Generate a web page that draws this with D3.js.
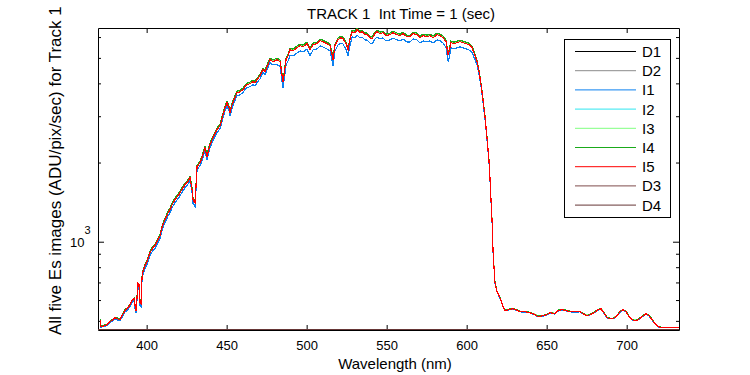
<!DOCTYPE html>
<html>
<head>
<meta charset="utf-8">
<script src="https://cdn.jsdelivr.net/npm/d3@7"></script>
<style>
  body { margin: 0; background: #fff; }
  svg { font-family: "Liberation Sans", Arial, sans-serif; }
</style>
</head>
<body>
<div id="chart"></div>
<script>
// Wavelength grid (nm) shared by the five image spectra
const wavelength = [
  370.9, 371.5, 373.4, 375.2, 377.1, 379.0, 380.2, 381.5, 383.4, 384.6,
  386.5, 388.4, 389.6, 390.9, 392.1, 392.7, 393.4, 394.6, 395.2, 395.9,
  396.5, 397.1, 397.7, 399.0, 400.2, 402.1, 404.0, 405.2, 406.5, 408.4,
  409.6, 410.9, 412.1, 413.4, 414.6, 415.9, 417.7, 419.6, 420.9, 422.7,
  424.0, 425.2, 426.5, 427.1, 428.4, 429.0, 430.2, 430.9, 431.5, 433.4,
  434.6, 436.5, 437.7, 438.4, 439.6, 441.5, 444.0, 445.9, 447.7, 449.0,
  450.2, 451.5, 452.1, 453.4, 454.6, 456.5, 458.4, 460.2, 461.5, 462.7,
  464.6, 466.5, 467.7, 469.0, 470.9, 472.7, 474.0, 475.2, 477.1, 479.0,
  481.5, 483.4, 485.2, 485.9, 487.1, 488.4, 489.6, 491.5, 494.0, 495.9,
  497.7, 500.2, 502.1, 504.0, 506.5, 508.4, 510.2, 512.7, 514.6, 515.9,
  516.5, 517.7, 519.6, 521.5, 522.7, 524.6, 525.9, 527.1, 528.4, 530.2,
  531.5, 533.4, 534.6, 536.5, 537.7, 539.6, 540.9, 542.7, 544.0, 545.9,
  547.7, 549.6, 552.1, 554.0, 556.5, 558.4, 560.2, 562.7, 564.6, 566.5,
  569.0, 570.9, 572.7, 575.2, 577.1, 579.0, 581.5, 583.4, 585.2, 587.1,
  588.4, 589.0, 590.2, 592.1, 594.0, 595.9, 597.7, 599.6, 601.5, 603.4,
  605.2, 606.5, 607.7, 609.0, 610.2, 611.5, 612.7, 614.0, 614.6, 615.2,
  615.9, 616.5, 617.1, 617.7, 619.0, 620.2, 621.5, 622.7, 624.0, 625.9,
  628.4, 630.9, 633.4, 636.5, 639.6, 642.7, 644.6, 647.7, 650.2, 652.1,
  655.2, 657.1, 659.6, 662.1, 664.6, 667.7, 670.9, 672.7, 675.2, 677.1,
  679.6, 682.1, 684.0, 685.2, 686.5, 687.7, 689.6, 691.5, 694.0, 695.9,
  697.7, 699.6, 701.5, 703.4, 705.2, 707.1, 709.6, 712.1, 714.0, 715.9,
  717.7, 719.6, 722.1, 727.1, 732.7
];

const I1 = [
  500, 473, 477, 480, 492, 500, 508, 505, 500, 516,
  540, 553, 567, 588, 598, 560, 535, 680, 672, 570,
  565, 715, 752, 792, 820, 887, 927, 943, 976, 1028,
  1102, 1161, 1203, 1256, 1289, 1347, 1407, 1458, 1497, 1563,
  1605, 1633, 1677, 1706, 1530, 1395, 1360, 1600, 1878, 1946,
  2032, 2219, 2040, 2142, 2278, 2421, 2598, 2690, 2961, 3148,
  3290, 3140, 3000, 3233, 3377, 3590, 3622, 3686, 3785, 3851,
  3885, 3953, 3919, 4022, 4165, 4390, 4313, 4507, 4790, 4700,
  4720, 4630, 3850, 4120, 4700, 4866, 5128, 5085, 5221, 5314,
  5267, 5407, 5100, 5359, 5407, 5550, 5503, 5407, 5314, 4880,
  4650, 5314, 5599, 5698, 5649, 5380, 5080, 5599, 6005, 5952,
  6112, 5952, 6005, 5850, 5850, 5698, 5649, 5901, 6005, 5901,
  5952, 5799, 5850, 5952, 5850, 5799, 5901, 5748, 5748, 5901,
  5850, 5698, 5799, 5748, 5799, 5698, 5850, 5799, 5698, 5480,
  4850, 5000, 5455, 5407, 5455, 5503, 5455, 5407, 5359, 5250,
  4920, 4690, 4320, 3870, 3400, 2910, 2450, 1990, 1705, 1432,
  1183, 912, 793, 696, 645, 621, 596, 565, 546, 549,
  555, 549, 541, 540, 536, 527, 518, 521, 527, 535,
  531, 545, 550, 546, 541, 540, 541, 531, 522, 527,
  536, 549, 555, 541, 527, 513, 509, 509, 522, 540,
  550, 541, 518, 504, 500, 504, 518, 531, 522, 504,
  487, 474, 471, 471, 471
];

const I2 = [
  506, 476, 480, 484, 497, 506, 515, 511, 506, 524,
  548, 562, 577, 598, 608, 577, 548, 693, 687, 587,
  582, 731, 771, 812, 841, 910, 951, 968, 1002, 1056,
  1132, 1193, 1236, 1292, 1326, 1385, 1447, 1499, 1539, 1607,
  1650, 1679, 1724, 1754, 1580, 1447, 1410, 1650, 1932, 2001,
  2090, 2283, 2109, 2203, 2343, 2490, 2672, 2768, 3046, 3238,
  3385, 3238, 3100, 3326, 3474, 3693, 3726, 3792, 3894, 3962,
  3997, 4067, 4032, 4138, 4286, 4517, 4438, 4637, 4930, 4853,
  4930, 4845, 4067, 4318, 4930, 5105, 5381, 5336, 5478, 5575,
  5526, 5673, 5381, 5623, 5673, 5824, 5774, 5673, 5575, 5150,
  4930, 5575, 5875, 5979, 5927, 5673, 5381, 5875, 6301, 6245,
  6413, 6245, 6301, 6138, 6138, 5979, 5927, 6191, 6301, 6191,
  6245, 6084, 6138, 6245, 6138, 6084, 6191, 6031, 6031, 6191,
  6138, 5979, 6084, 6031, 6084, 5979, 6138, 6084, 5979, 5774,
  5150, 5287, 5723, 5673, 5723, 5774, 5723, 5673, 5623, 5478,
  5105, 4845, 4438, 3962, 3474, 2967, 2490, 2019, 1724, 1447,
  1193, 918, 797, 699, 646, 624, 598, 567, 548, 552,
  557, 552, 543, 542, 538, 529, 520, 524, 529, 538,
  533, 548, 552, 548, 543, 543, 543, 533, 524, 529,
  538, 552, 557, 543, 529, 515, 511, 511, 524, 543,
  552, 543, 520, 506, 502, 506, 520, 533, 524, 506,
  489, 476, 472, 471, 471
];

const I3 = [
  506, 476, 480, 484, 497, 506, 515, 511, 506, 524,
  548, 563, 578, 599, 609, 578, 549, 694, 689, 588,
  583, 734, 774, 815, 844, 913, 955, 972, 1006, 1060,
  1137, 1198, 1241, 1297, 1331, 1390, 1453, 1505, 1545, 1614,
  1657, 1686, 1731, 1762, 1586, 1453, 1415, 1657, 1940, 2009,
  2099, 2292, 2118, 2212, 2352, 2500, 2683, 2779, 3058, 3251,
  3398, 3251, 3113, 3339, 3488, 3708, 3741, 3807, 3909, 3978,
  4013, 4083, 4048, 4155, 4303, 4535, 4456, 4656, 4950, 4872,
  4950, 4864, 4083, 4335, 4950, 5126, 5402, 5357, 5500, 5597,
  5548, 5696, 5402, 5646, 5696, 5847, 5797, 5696, 5597, 5171,
  4950, 5597, 5898, 6003, 5950, 5696, 5402, 5898, 6326, 6270,
  6438, 6270, 6326, 6163, 6163, 6003, 5950, 6216, 6326, 6216,
  6270, 6108, 6163, 6270, 6163, 6108, 6216, 6055, 6055, 6216,
  6163, 6003, 6108, 6055, 6108, 6003, 6163, 6108, 6003, 5797,
  5171, 5308, 5746, 5696, 5746, 5797, 5746, 5696, 5646, 5500,
  5126, 4864, 4456, 3978, 3488, 2979, 2500, 2027, 1731, 1453,
  1198, 921, 801, 702, 648, 625, 599, 568, 549, 553,
  558, 553, 544, 544, 539, 530, 521, 525, 530, 539,
  534, 549, 553, 549, 544, 544, 544, 534, 525, 530,
  539, 553, 558, 544, 530, 516, 512, 512, 525, 544,
  553, 544, 521, 507, 503, 507, 521, 534, 525, 507,
  490, 477, 472, 472, 472
];

const I4 = [
  507, 477, 481, 486, 499, 508, 517, 513, 508, 526,
  551, 565, 580, 601, 611, 580, 552, 697, 691, 591,
  586, 736, 776, 821, 851, 921, 962, 980, 1014, 1069,
  1146, 1208, 1251, 1307, 1342, 1401, 1464, 1517, 1558, 1626,
  1670, 1699, 1745, 1776, 1599, 1464, 1427, 1670, 1955, 2025,
  2115, 2310, 2135, 2230, 2371, 2520, 2704, 2801, 3083, 3277,
  3425, 3277, 3137, 3365, 3516, 3738, 3771, 3837, 3940, 4009,
  4045, 4116, 4080, 4188, 4337, 4571, 4491, 4693, 4989, 4911,
  4989, 4903, 4116, 4369, 4989, 5166, 5445, 5400, 5544, 5642,
  5592, 5741, 5445, 5691, 5741, 5893, 5843, 5741, 5642, 5212,
  4989, 5642, 5945, 6051, 5998, 5741, 5445, 5945, 6376, 6320,
  6490, 6320, 6376, 6212, 6212, 6051, 5998, 6266, 6376, 6266,
  6320, 6157, 6212, 6320, 6212, 6157, 6266, 6103, 6103, 6266,
  6212, 6051, 6157, 6103, 6157, 6051, 6212, 6157, 6051, 5843,
  5212, 5350, 5792, 5741, 5792, 5843, 5792, 5741, 5691, 5544,
  5166, 4893, 4473, 3990, 3495, 2985, 2500, 2025, 1728, 1449,
  1195, 919, 798, 700, 648, 625, 599, 567, 549, 553,
  558, 553, 544, 543, 539, 529, 521, 525, 530, 539,
  533, 549, 553, 549, 544, 543, 544, 534, 524, 530,
  539, 553, 558, 543, 530, 515, 512, 511, 525, 544,
  553, 544, 521, 506, 502, 506, 521, 534, 525, 507,
  490, 477, 472, 472, 472
];

const I5 = [
  505, 475, 479, 483, 496, 505, 514, 510, 505, 523,
  547, 561, 576, 597, 607, 576, 547, 692, 686, 586,
  581, 730, 769, 810, 839, 908, 949, 966, 1000, 1054,
  1130, 1191, 1234, 1289, 1323, 1382, 1444, 1496, 1536, 1604,
  1647, 1676, 1721, 1751, 1577, 1444, 1407, 1647, 1928, 1997,
  2086, 2278, 2105, 2199, 2338, 2485, 2667, 2762, 3040, 3232,
  3378, 3232, 3094, 3319, 3467, 3686, 3719, 3784, 3886, 3954,
  3989, 4059, 4024, 4130, 4277, 4508, 4429, 4628, 4920, 4843,
  4920, 4835, 4059, 4309, 4920, 5095, 5370, 5325, 5467, 5564,
  5515, 5662, 5370, 5612, 5662, 5812, 5762, 5662, 5564, 5140,
  4920, 5564, 5863, 5967, 5915, 5662, 5370, 5863, 6288, 6233,
  6400, 6233, 6288, 6126, 6126, 5967, 5915, 6179, 6288, 6179,
  6233, 6072, 6126, 6233, 6126, 6072, 6179, 6019, 6019, 6179,
  6126, 5967, 6072, 6019, 6072, 5967, 6126, 6072, 5967, 5762,
  5140, 5276, 5712, 5662, 5712, 5762, 5712, 5662, 5612, 5467,
  5095, 4835, 4429, 3954, 3467, 2961, 2485, 2015, 1721, 1444,
  1191, 916, 796, 698, 646, 623, 597, 566, 547, 551,
  556, 551, 542, 542, 537, 528, 519, 523, 528, 537,
  532, 547, 551, 547, 542, 542, 542, 532, 523, 528,
  537, 551, 556, 542, 528, 514, 510, 510, 523, 542,
  551, 542, 519, 505, 501, 505, 519, 532, 523, 505,
  488, 475, 471, 471, 471
];

// Dark frames sit flat at the bottom of the axis
const darkWavelength = [369.6, 400, 450, 500, 550, 600, 650, 700, 732.7];
const D1 = [462.6, 462.7, 462.6, 462.7, 462.6, 462.7, 462.6, 462.7, 462.6];
const D2 = [462.7, 462.6, 462.7, 462.6, 462.7, 462.6, 462.7, 462.6, 462.7];
const D3 = [462.6, 462.6, 462.7, 462.6, 462.6, 462.7, 462.6, 462.6, 462.6];
const D4 = [462.7, 462.7, 462.6, 462.7, 462.7, 462.6, 462.7, 462.7, 462.7];

const xTicks = [400, 450, 500, 550, 600, 650, 700];
const yMinorTicks = [500, 600, 700, 800, 900, 2000, 3000, 4000, 5000, 6000];
const yMajorTicks = [1000];

const seriesNames = ["D1", "D2", "I1", "I2", "I3", "I4", "I5", "D3", "D4"];
const seriesColors = ["#000000", "#8c8c8c", "#0a80f0", "#2ee6f0", "#80ff80", "#1aaa1a", "#ff0000", "#7f4c4c", "#663636"];

// Set up the dimensions of the chart
const margin = { top: 28, right: 71, bottom: 45, left: 98 };
const width = 750 - margin.left - margin.right;
const height = 375 - margin.top - margin.bottom;

const root = d3.select("#chart")
    .append("svg")
    .attr("width", 750)
    .attr("height", 375);

const svg = root.append("g")
    .attr("transform", "translate(" + margin.left + "," + margin.top + ")");

const x = d3.scaleLinear()
    .domain([369.6, 732.7])
    .range([0, width]);

const y = d3.scaleLog()
    .domain([461.6, 6495])
    .range([height, 0]);

// Axes (ticks point inward, box on all four sides)
svg.append("g")
    .attr("transform", "translate(0," + height + ")")
    .call(d3.axisBottom(x).tickValues(xTicks).tickSizeInner(-5).tickSizeOuter(0).tickPadding(11))
    .call(g => g.selectAll("text").style("font-size", "13px").attr("fill", "#000"));

svg.append("g")
    .call(d3.axisTop(x).tickValues(xTicks).tickSizeInner(-5).tickSizeOuter(0).tickFormat(""));

svg.append("g")
    .call(d3.axisLeft(y).tickValues(yMinorTicks).tickSizeInner(-3).tickSizeOuter(0).tickFormat(""));

svg.append("g")
    .call(d3.axisLeft(y).tickValues(yMajorTicks).tickSizeInner(-6).tickSizeOuter(0).tickFormat(""))
    .call(g => g.select(".domain").remove());

svg.append("g")
    .attr("transform", "translate(" + width + ",0)")
    .call(d3.axisRight(y).tickValues(yMinorTicks).tickSizeInner(-3).tickSizeOuter(0).tickFormat(""));

svg.append("g")
    .attr("transform", "translate(" + width + ",0)")
    .call(d3.axisRight(y).tickValues(yMajorTicks).tickSizeInner(-6).tickSizeOuter(0).tickFormat(""))
    .call(g => g.select(".domain").remove());

svg.selectAll(".domain, .tick line").attr("stroke", "#000");

// 10^3 label
const majorLabel = svg.append("text")
    .attr("x", -28)
    .attr("y", y(1000) + 5)
    .style("font-size", "13px")
    .text("10");
majorLabel.append("tspan")
    .attr("dy", -13)
    .style("font-size", "11px")
    .text("3");

// Lines
svg.append("clipPath").attr("id", "plot-clip")
    .append("rect").attr("x", 0).attr("y", -1).attr("width", width).attr("height", height + 2);

const line = d3.line()
    .x(d => x(d[0]))
    .y(d => y(d[1]));

const imageSeries = { I1, I2, I3, I4, I5 };
const darkSeries = { D1, D2, D3, D4 };

seriesNames.forEach((name, i) => {
    let pts;
    if (name[0] === "I") {
        pts = wavelength.map((w, j) => [w, imageSeries[name][j]]);
    } else {
        pts = darkWavelength.map((w, j) => [w, darkSeries[name][j]]);
    }
    svg.append("path")
        .datum(pts)
        .attr("clip-path", "url(#plot-clip)")
        .attr("fill", "none")
        .attr("stroke", seriesColors[i])
        .attr("stroke-width", 1.2)
        .style("shape-rendering", "crispEdges")
        .attr("d", line);
});

// Titles
root.append("text")
    .attr("x", 401)
    .attr("y", 19)
    .attr("text-anchor", "middle")
    .style("font-size", "15px")
    .style("white-space", "pre")
    .text("TRACK 1  Int Time = 1 (sec)");

root.append("text")
    .attr("x", 395)
    .attr("y", 369)
    .attr("text-anchor", "middle")
    .style("font-size", "15px")
    .text("Wavelength (nm)");

root.append("text")
    .attr("transform", "translate(61,335) rotate(-90)")
    .attr("text-anchor", "start")
    .style("font-size", "17px")
    .text("All five Es images (ADU/pix/sec) for Track 1");

// Legend
const legend = root.append("g");
legend.append("rect")
    .attr("x", 564.5)
    .attr("y", 39.5)
    .attr("width", 106)
    .attr("height", 178)
    .attr("fill", "#fff")
    .attr("stroke", "#000");

seriesNames.forEach((name, i) => {
    const ly = 51.5 + i * 19.2;
    legend.append("line")
        .attr("x1", 575).attr("x2", 636)
        .attr("y1", ly).attr("y2", ly)
        .attr("stroke", seriesColors[i]);
    legend.append("text")
        .attr("x", 642)
        .attr("y", ly + 5.5)
        .style("font-size", "15px")
        .text(name);
});
</script>
</body>
</html>
